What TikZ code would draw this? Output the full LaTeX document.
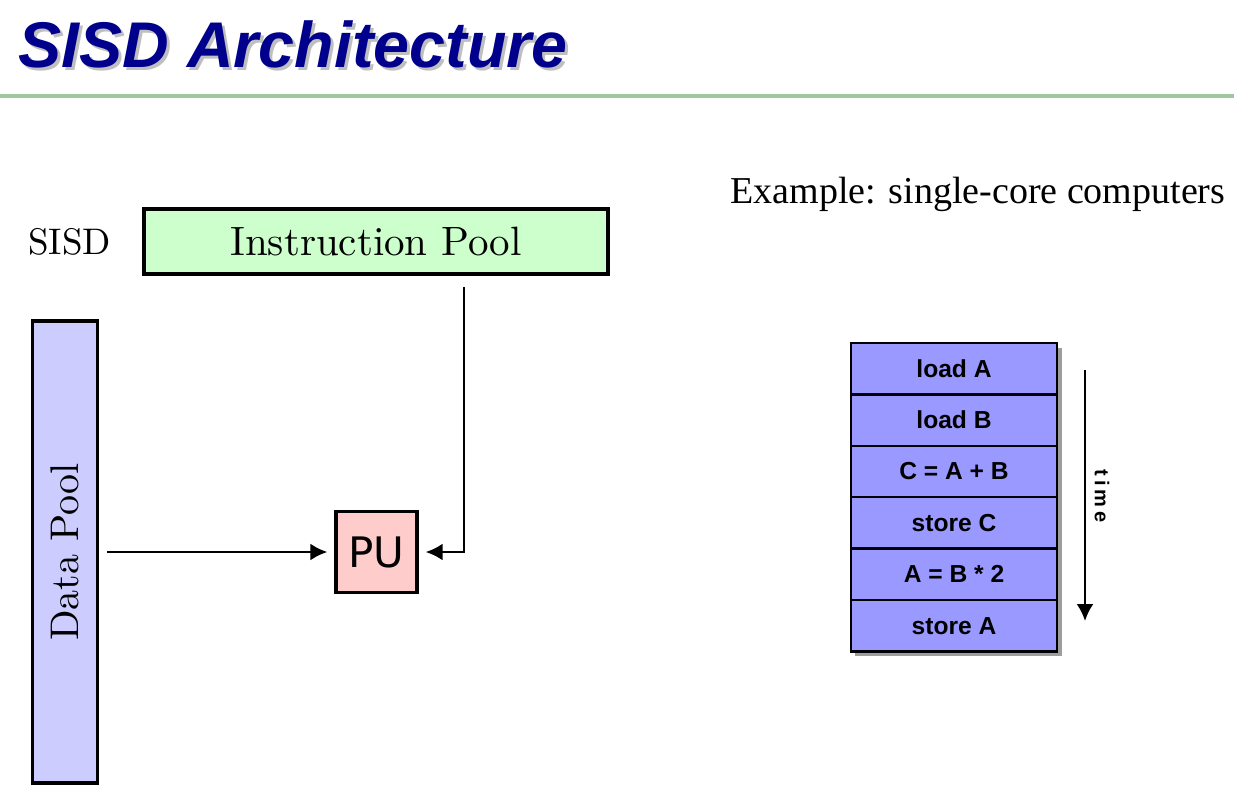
\documentclass[tikz,border=0pt]{standalone}
\usepackage{fontspec}
\setmainfont{lmroman10-regular.otf}
\newfontfamily\arialfont{Liberation Sans}
\newfontfamily\timesfont{Liberation Serif}
\newfontfamily\pufont{DejaVu Sans}
\newfontfamily\timefont{Liberation Sans}[LetterSpace=20]
\usetikzlibrary{arrows.meta}
\definecolor{titleblue}{RGB}{0,0,140}
\definecolor{rulegreen}{RGB}{160,200,160}
\definecolor{ipgreen}{RGB}{204,255,204}
\definecolor{dpblue}{RGB}{204,204,255}
\definecolor{pupink}{RGB}{255,204,204}
\definecolor{opblue}{RGB}{153,153,255}

\begin{document}
\begin{tikzpicture}[x=0.5pt, y=-0.5pt, >={Latex[length=8.5pt,width=8.5pt]},
  pool/.style={draw, line width=1.6pt, inner sep=0pt},
  feed/.style={->, line width=1.4pt, shorten <=4pt, shorten >=3.5pt},
  opbox/.style={draw, line width=1.2pt, fill=opblue, minimum width=103pt, minimum height=25.7pt, inner sep=0pt, font=\arialfont\bfseries\fontsize{12.3}{14}\selectfont}]
  \useasboundingbox (0,0) rectangle (1234,802);
  \node[anchor=base west, inner sep=0pt, text=black!25, font=\arialfont\bfseries\itshape\fontsize{32.3}{36}\selectfont] (titleshadow) at (21,71) {SISD Architecture};
  \node[anchor=base west, inner sep=0pt, text=titleblue, font=\arialfont\bfseries\itshape\fontsize{32.3}{36}\selectfont] (title) at (18,68) {SISD Architecture};
  \draw[rulegreen, line width=2pt] (0,96) -- (1234,96);
  \node[anchor=base west, inner sep=0pt, font=\fontsize{18.5}{22}\selectfont] (sisd) at (28,254) {SISD};
  \node[pool, fill=ipgreen, minimum width=232pt, minimum height=32.5pt, font=\fontsize{20.5}{24}\selectfont] (ipool) at (376,241.5) {Instruction Pool};
  \node[pool, fill=dpblue, minimum width=32.5pt, minimum height=231pt, label={[rotate=90, font=\fontsize{20}{24}\selectfont]center:Data Pool}] (dpool) at (65,552) {};
  \node[pool, fill=pupink, minimum size=40.5pt, font=\pufont\fontsize{21}{24}\selectfont] (pu) at (376.5,552) {PU};
  \coordinate (ifeed) at (464,287);
  \draw[feed] (dpool) -- (pu);
  \draw[feed, shorten <=0pt] (ifeed) |- (pu);
  \node[anchor=base west, inner sep=0pt, font=\timesfont\fontsize{19}{22}\selectfont] (example) at (730,203) {Example: single-core computers};
  \fill[black!70, opacity=0.55] (855,348) rectangle (1062,656);
  \foreach \op [count=\i] in {load A, load B, C = A + B, store C, A = B * 2, store A}
    {\node[opbox] (op\i) at (954, {368.7+51.4*(\i-1)}) {\op};}
  \coordinate (tstart) at (1085,370);
  \coordinate (tend) at (1085,621);
  \draw[->, line width=1.2pt] (tstart) -- (tend);
  \node[rotate=-90, font=\timefont\bfseries\fontsize{10}{12}\selectfont] (timelbl) at (1102,496) {time};
\end{tikzpicture}
\end{document}
